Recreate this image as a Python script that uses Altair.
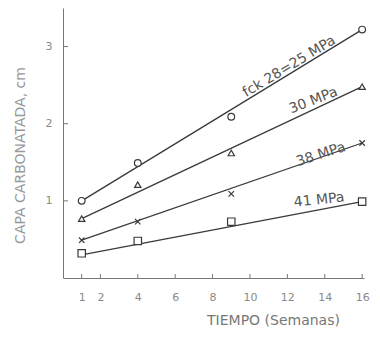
import altair as alt
import pandas as pd

weeks = [1, 4, 9, 16]
c25 = [1.0, 1.49, 2.09, 3.22]
c30 = [0.77, 1.21, 1.62, 2.48]
c38 = [0.49, 0.73, 1.09, 1.75]
c41 = [0.32, 0.48, 0.73, 0.99]

series = ["25", "30", "38", "41"]
line_x = [1, 16]
line_start = [1.0, 0.77, 0.49, 0.30]
line_end = [3.22, 2.48, 1.75, 0.99]

labels = ["fck 28=25 MPa", "30 MPa", "38 MPa", "41 MPa"]
label_x = [12.1, 13.4, 13.8, 13.7]
label_y = [2.74, 2.30, 1.60, 1.01]
label_angle = [329, 339, 342, 354]

x_ticks = [1, 2, 4, 6, 8, 10, 12, 14, 16]
y_ticks = [1, 2, 3]

W, H = 301, 270
INK = "#3a3a3a"
GRAY = "#8a8a8a"

pts = pd.DataFrame(
    [{"s": s, "w": w, "v": v} for s, vals in zip(series, [c25, c30, c38, c41]) for w, v in zip(weeks, vals)]
)
lines = pd.DataFrame(
    [{"s": s, "w": line_x[0], "v": a} for s, a in zip(series, line_start)]
    + [{"s": s, "w": line_x[1], "v": b} for s, b in zip(series, line_end)]
)
txt = pd.DataFrame({"t": labels, "w": label_x, "v": label_y, "a": label_angle})
xt = pd.DataFrame({"w": x_ticks})
yt = pd.DataFrame({"v": y_ticks})

xs = alt.Scale(domain=[0, 16.1], nice=False, zero=False)
ys = alt.Scale(domain=[0, 3.5], nice=False)

xaxis = alt.Axis(values=x_ticks, ticks=False, grid=False, labelColor=GRAY, labelFontSize=11,
                 labelPadding=13, domainColor="#777", title="TIEMPO (Semanas)", format="d",
                 labelOverlap=False, labelFlush=False,
                 titleColor="#777", titleFontSize=14, titleFontWeight="normal",
                 titleX=210, titleY=42, titleBaseline="middle", titleAlign="center")
yaxis = alt.Axis(values=y_ticks, ticks=False, grid=False, labelColor=GRAY, labelFontSize=11,
                 labelPadding=11, domainColor="#777", title="CAPA CARBONATADA, cm", format="d",
                 labelOverlap=False,
                 titleColor="#999", titleFontSize=14, titleFontWeight="normal",
                 titleX=-43, titleY=147, titleBaseline="middle", titleAlign="center", titleAngle=270)

X = alt.X("w:Q", scale=xs, axis=xaxis)
Y = alt.Y("v:Q", scale=ys, axis=yaxis)

line_layer = alt.Chart(lines).mark_line(color=INK, strokeWidth=1.3).encode(x=X, y=Y, detail="s:N")

shape_map = {"25": "circle", "30": "triangle-up", "38": "M-1,-1L1,1M-1,1L1,-1", "41": "square"}
size_map = {"25": 45, "30": 40, "38": 30, "41": 55}
point_layers = []
for s in series:
    point_layers.append(
        alt.Chart(pts[pts.s == s]).mark_point(shape=shape_map[s], size=size_map[s], filled=False,
                                              color=INK, strokeWidth=1.2, fill="white", fillOpacity=1)
        .encode(x=X, y=Y)
    )

text_layer = alt.Chart(txt).mark_text(font="DejaVu Sans", fontSize=14, color="#555",
                                      align="center", baseline="middle").encode(
    x=X, y=Y, text="t:N", angle=alt.Angle("a:Q", scale=None))

xtick_layer = alt.Chart(xt).mark_rule(color="#777").encode(
    x=X, y=alt.value(H), y2=alt.value(H - 4))
ytick_layer = alt.Chart(yt).mark_rule(color="#777").encode(
    y=Y, x=alt.value(0), x2=alt.value(5))

chart = alt.layer(line_layer, *point_layers, text_layer, xtick_layer, ytick_layer).properties(
    width=W, height=H, autosize=alt.AutoSizeParams(type="none"),
    padding={"left": 55, "top": 0, "right": 6, "bottom": 50}
).configure_view(stroke=None).configure_axis(labelFont="DejaVu Sans", titleFont="DejaVu Sans",
                                             labelOverlap=False)

chart.save("out.html", embed_options={"renderer": "svg", "actions": False})
